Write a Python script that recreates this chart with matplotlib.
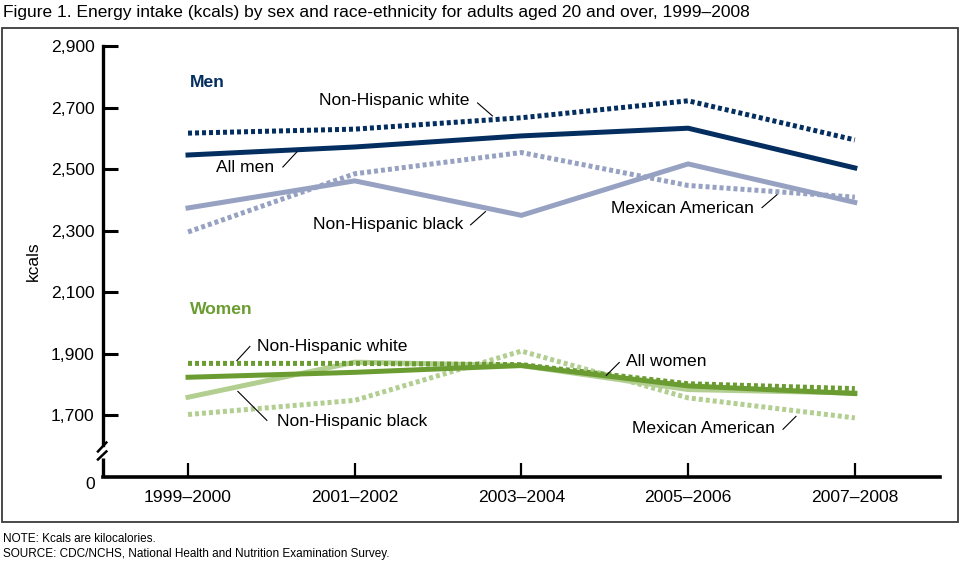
import matplotlib.pyplot as plt
from matplotlib.patches import Rectangle
from matplotlib.lines import Line2D

plt.rcParams['font.family'] = ['Liberation Sans', 'DejaVu Sans']

periods = ["1999\u20132000", "2001\u20132002", "2003\u20132004", "2005\u20132006", "2007\u20132008"]

men_all = [2546, 2572, 2608, 2633, 2504]
men_nh_white = [2617, 2630, 2667, 2722, 2595]
men_nh_black = [2374, 2462, 2350, 2517, 2392]
men_mexican = [2296, 2485, 2554, 2447, 2409]

women_all = [1824, 1840, 1862, 1796, 1771]
women_nh_white = [1869, 1869, 1865, 1803, 1787]
women_nh_black = [1759, 1873, 1862, 1784, 1773]
women_mexican = [1703, 1749, 1909, 1757, 1692]

yticks = [1700, 1900, 2100, 2300, 2500, 2700, 2900]

NAVY = "#032e5f"
LIGHT_BLUE = "#97a2c3"
GREEN = "#6a9c32"
LIGHT_GREEN = "#b2cf91"
DOT = (0, (0.8, 0.6))

fig = plt.figure(figsize=(9.6, 5.81), dpi=100)
ax = fig.add_axes([0.1073, 0.179, 0.8717, 0.7418])
x = range(len(periods))


def draw(vals, color, ls):
    ax.plot(x, vals, color=color, lw=3.6, linestyle=ls,
            solid_joinstyle='miter', dash_capstyle='butt', dash_joinstyle='miter')


draw(men_nh_black, LIGHT_BLUE, '-')
draw(men_mexican, LIGHT_BLUE, DOT)
draw(men_all, NAVY, '-')
draw(men_nh_white, NAVY, DOT)

draw(women_mexican, LIGHT_GREEN, DOT)
draw(women_nh_black, LIGHT_GREEN, '-')
draw(women_all, GREEN, '-')
draw(women_nh_white, GREEN, DOT)

ax.set_xlim(-0.51, 4.51)
ax.set_ylim(1500, 2900)
ax.set_xticks(list(x))
ax.set_xticklabels(periods)
ax.set_yticks(yticks)
ax.set_yticklabels([f"{v:,}" for v in yticks])
ax.tick_params(axis='y', direction='in', length=11, width=2.2, pad=6, labelsize=12.6)
ax.tick_params(axis='x', direction='in', length=10, width=1.6, pad=9, labelsize=12.6)
for s in ['top', 'right', 'left']:
    ax.spines[s].set_visible(False)
ax.spines['bottom'].set_linewidth(2.6)
ax.set_ylabel("kcals", fontsize=12.6, labelpad=7)

# broken y axis
tr = ax.get_yaxis_transform()
ax.add_line(Line2D([0, 0], [1605, 2900], transform=tr, color='black', lw=2.4, clip_on=False))
ax.add_line(Line2D([0, 0], [1500, 1562], transform=tr, color='black', lw=2.4, clip_on=False,
                   solid_capstyle='butt'))
ax.add_line(Line2D([-0.006, 0.004], [1583, 1612], transform=tr, color='black', lw=1.8, clip_on=False))
ax.add_line(Line2D([-0.006, 0.004], [1557, 1583], transform=tr, color='black', lw=1.8, clip_on=False))
ax.text(-0.009, 1500, "0", transform=tr, ha='right', va='top', fontsize=12.6)

# labels
lab = dict(fontsize=12.6, va='center', ha='left')
ax.text(0.012, 2780, "Men", color=NAVY, fontweight='bold', fontsize=12.6, va='center')
ax.text(0.012, 2044, "Women", color=GREEN, fontweight='bold', fontsize=12.6, va='center')

notes = [
    ("Non-Hispanic white", 0.784, 2722, (1.737, 1.826), (2715, 2673)),
    ("All men", 0.168, 2504, (0.569, 0.653), (2507, 2556)),
    ("Non-Hispanic black", 0.749, 2319, (1.695, 1.784), (2319, 2362)),
    ("Mexican American", 2.539, 2371, (3.443, 3.533), (2375, 2417)),
    ("Non-Hispanic white", 0.413, 1924, (0.293, 0.371), (1878, 1924)),
    ("Non-Hispanic black", 0.533, 1681, (0.473, 0.299), (1684, 1778)),
    ("All women", 2.629, 1875, (2.509, 2.587), (1830, 1872)),
    ("Mexican American", 2.665, 1658, (3.569, 3.647), (1655, 1697)),
]
for txt, tx, ty, lx, ly in notes:
    ax.text(tx, ty, txt, **lab)
    ax.plot(lx, ly, color='black', lw=0.8)

# frame and captions
fig.patches.append(Rectangle((2 / 960, 1 - 522 / 581), 956 / 960, 494 / 581,
                             transform=fig.transFigure, fill=False,
                             edgecolor='#3a3a3a', lw=1.3))
fig.text(3 / 960, 1 - 13 / 581, "Figure 1. Energy intake (kcals) by sex and race-ethnicity for adults aged 20 and over, 1999\u20132008",
         fontsize=12.5, va='center', ha='left')
fig.text(3 / 960, 1 - 539 / 581, "NOTE: Kcals are kilocalories.", fontsize=8.5, va='center')
fig.text(3 / 960, 1 - 554 / 581, "SOURCE: CDC/NCHS, National Health and Nutrition Examination Survey.",
         fontsize=8.5, va='center')

fig.savefig("out.png", dpi=100)
